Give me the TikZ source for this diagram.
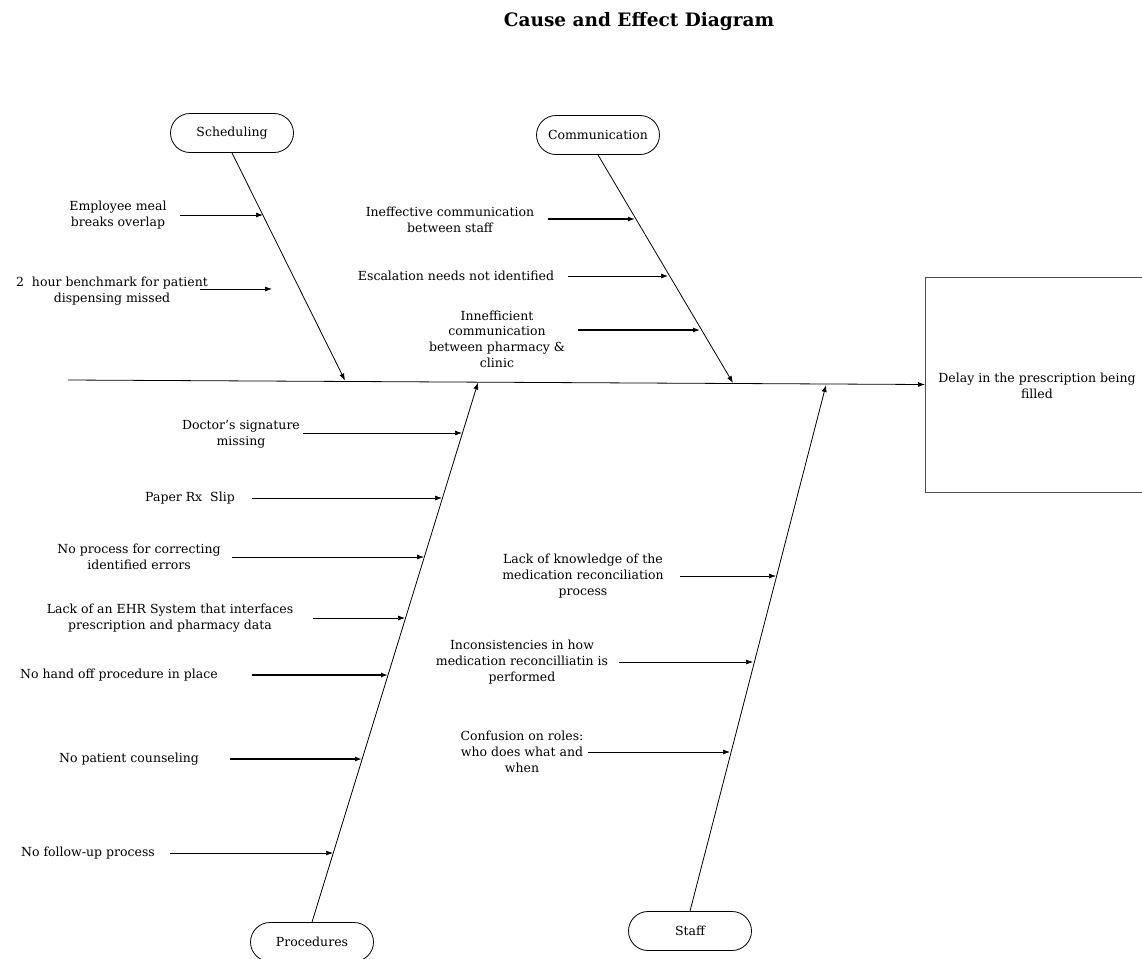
\documentclass[tikz,border=0pt]{standalone}
\usepackage{fontspec}
\setmainfont{DejaVu Serif}
\usetikzlibrary{arrows.meta,shapes.misc}

\begin{document}
\begin{tikzpicture}[x=1pt,y=-1pt,
  cat/.style={draw,rounded rectangle,minimum width=123pt,minimum height=39pt,
    inner sep=0pt,line width=0.8pt,font=\fontsize{12.5}{15}\selectfont},
  cause/.style={align=center,inner sep=0pt,font=\fontsize{12.5}{15.7}\selectfont},
  bone/.style={-{Latex[length=7pt,width=5pt]},line width=0.8pt},
  arr/.style={-{Latex[length=7pt,width=5pt]},line width=0.7pt},
  heavyarr/.style={arr,line width=1.3pt}]
  \useasboundingbox (0,0) rectangle (1142,958);

  % Title
  \node[font=\bfseries\fontsize{18.5}{20}\selectfont,anchor=base] (title) at (639,27)
    {Cause and Effect Diagram};

  % Effect box (runs off the right edge)
  \node[draw=black!70,line width=1pt,minimum width=235pt,minimum height=215pt,
    anchor=west] (effectbox) at (925,384.5) {};
  \node[cause] (effect) at (1037,386) {Delay in the prescription being\\filled};

  % Spine
  \coordinate (tail) at (68,380);
  \draw[bone] (tail) -- (effectbox.west);

  % Categories
  \node[cat] (sched) at (232,133) {Scheduling};
  \node[cat] (comm)  at (598,135) {Communication};
  \node[cat] (proc)  at (312,942) {Procedures};
  \node[cat] (staff) at (690,931) {Staff};

  % Bones
  \coordinate (jSched) at (345,380.5);
  \coordinate (jComm)  at (733,383);
  \coordinate (jProc)  at (478,382.5);
  \coordinate (jStaff) at (826,385);
  \draw[bone] (sched.south) -- (jSched);
  \draw[bone] (comm.south)  -- (jComm);
  \draw[bone] (proc.north)  -- (jProc);
  \draw[bone] (staff.north) -- (jStaff);

  % Scheduling causes
  \node[cause] (meal) at (118,215) {Employee meal\\breaks overlap};
  \coordinate (mealS) at (180,215);
  \coordinate (mealE) at (263,215);
  \draw[arr] (mealS) -- (mealE);
  \node[cause] (bench) at (112,291) {2\ \ hour benchmark for patient\\dispensing missed};
  \coordinate (benchS) at (200,289);
  \coordinate (benchE) at (272,289);
  \draw[arr] (benchS) -- (benchE);

  % Communication causes
  \node[cause] (staffcom) at (450,220) {Ineffective communication\\between staff};
  \coordinate (staffcomS) at (548,219);
  \coordinate (staffcomE) at (635,219);
  \draw[heavyarr] (staffcomS) -- (staffcomE);
  \node[cause] (escal) at (456,276) {Escalation needs not identified};
  \coordinate (escalS) at (568,276);
  \coordinate (escalE) at (668,276);
  \draw[arr] (escalS) -- (escalE);
  \node[cause] (pharm) at (497,339)
    {Innefficient\\communication\\between pharmacy \&\\clinic};
  \coordinate (pharmS) at (578,330);
  \coordinate (pharmE) at (700,330);
  \draw[heavyarr] (pharmS) -- (pharmE);

  % Procedures causes
  \node[cause] (sign) at (241,434) {Doctor's signature\\missing};
  \coordinate (signS) at (303,433);
  \coordinate (signE) at (462,433);
  \draw[arr] (signS) -- (signE);
  \node[cause] (slip) at (190,498) {Paper Rx\ \ Slip};
  \coordinate (slipS) at (252,498);
  \coordinate (slipE) at (442,498);
  \draw[arr] (slipS) -- (slipE);
  \node[cause] (errors) at (139,557) {No process for correcting\\identified errors};
  \coordinate (errorsS) at (232,557);
  \coordinate (errorsE) at (424,557);
  \draw[arr] (errorsS) -- (errorsE);
  \node[cause] (ehr) at (170,618)
    {Lack of an EHR System that interfaces\\prescription and pharmacy data};
  \coordinate (ehrS) at (313,618);
  \coordinate (ehrE) at (405,618);
  \draw[arr] (ehrS) -- (ehrE);
  \node[cause] (handoff) at (119,675) {No hand off procedure in place};
  \coordinate (handoffS) at (252,675);
  \coordinate (handoffE) at (388,675);
  \draw[heavyarr] (handoffS) -- (handoffE);
  \node[cause] (counsel) at (129,759) {No patient counseling};
  \coordinate (counselS) at (230,759);
  \coordinate (counselE) at (362,759);
  \draw[heavyarr] (counselS) -- (counselE);
  \node[cause] (follow) at (88,853) {No follow-up process};
  \coordinate (followS) at (170,853);
  \coordinate (followE) at (333,853);
  \draw[arr] (followS) -- (followE);

  % Staff causes
  \node[cause] (know) at (583,576)
    {Lack of knowledge of the\\medication reconciliation\\process};
  \coordinate (knowS) at (680,576);
  \coordinate (knowE) at (776,576);
  \draw[arr] (knowS) -- (knowE);
  \node[cause] (incons) at (522,662)
    {Inconsistencies in how\\medication reconcilliatin is\\performed};
  \coordinate (inconsS) at (619,662);
  \coordinate (inconsE) at (753,662);
  \draw[arr] (inconsS) -- (inconsE);
  \node[cause] (roles) at (522,752) {Confusion on roles:\\who does what and\\when};
  \coordinate (rolesS) at (588,752);
  \coordinate (rolesE) at (730,752);
  \draw[arr] (rolesS) -- (rolesE);
\end{tikzpicture}
\end{document}
